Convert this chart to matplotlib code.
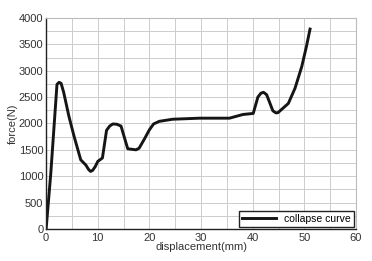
import numpy as np
import matplotlib
matplotlib.use("Agg")
import matplotlib.pyplot as plt
from matplotlib.ticker import MultipleLocator

plt.rcParams['font.family'] = ['Liberation Sans', 'DejaVu Sans']

# displacement (mm) and force (N)
displacement = [0, 0.9, 2.1, 2.5, 2.9, 3.4, 4.4, 5.4, 6.7, 7.7, 8.2, 8.6, 9.0, 9.5,
                10.0, 10.9, 11.7, 12.3, 12.9, 13.7, 14.5, 15.8, 17.4, 18.0,
                19.0, 20.0, 20.8, 21.9, 24.5, 29.7, 35.5, 38.1, 40.1, 41.0,
                41.6, 42.1, 42.7, 43.9, 44.5, 44.9, 46.9, 48.2, 49.5, 50.4, 51.1]
force = [0, 1050, 2740, 2780, 2760, 2590, 2140, 1760, 1310, 1210, 1130, 1090, 1110,
         1180, 1280, 1345, 1870, 1950, 1990, 1985, 1950, 1520, 1500, 1530,
         1700, 1880, 1990, 2040, 2080, 2100, 2100, 2170, 2190, 2500,
         2575, 2590, 2545, 2240, 2200, 2205, 2380, 2670, 3080, 3460, 3790]

fig = plt.figure(figsize=(3.72, 2.61), dpi=100)
ax = fig.add_axes([0.124, 0.123, 0.833, 0.808])

ax.plot(displacement, force, color='#151515', lw=2.1, label='collapse curve',
        solid_joinstyle='round')

ax.set_xlim(0, 60)
ax.set_ylim(0, 4000)
ax.xaxis.set_major_locator(MultipleLocator(10))
ax.xaxis.set_minor_locator(MultipleLocator(5))
ax.yaxis.set_major_locator(MultipleLocator(500))
ax.yaxis.set_minor_locator(MultipleLocator(250))
ax.grid(True, which='both', color='#cccccc', lw=0.7)
ax.set_axisbelow(True)
ax.tick_params(which='both', length=0, labelsize=8, colors='#333333')
ax.tick_params(axis='x', pad=3)
ax.tick_params(axis='y', pad=2)

for s in ['left', 'bottom']:
    ax.spines[s].set_color('#222222')
    ax.spines[s].set_linewidth(1.0)
for s in ['top', 'right']:
    ax.spines[s].set_color('#bbbbbb')

ax.set_xlabel('displacement(mm)', fontsize=8, color='#333333', labelpad=-1)
ax.set_ylabel('force(N)', fontsize=8, color='#333333', labelpad=1)

leg = ax.legend(loc='lower right', fontsize=7.5, fancybox=False, framealpha=1,
                edgecolor='#222222', borderpad=0.3, handlelength=3.2,
                borderaxespad=0.2)
leg.get_frame().set_linewidth(1.0)

fig.savefig('out.png', dpi=100)
